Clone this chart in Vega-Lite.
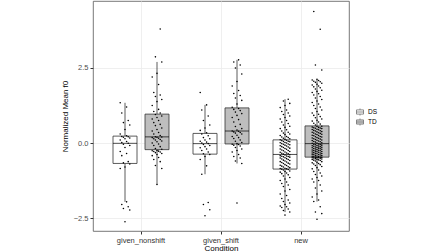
{
"$schema":"https://vega.github.io/schema/vega-lite/v6.json",
"width":256,"height":230,
"autosize":{"type":"none"},
"padding":{"left":93,"top":1,"right":99,"bottom":21},
"config":{
 "font":"Liberation Sans",
 "view":{"stroke":"#555555","strokeWidth":0.8},
 "axis":{"gridColor":"#EBEBEB","gridWidth":0.8,"domain":false,"tickColor":"#333333","tickSize":3,"labelColor":"#4d4d4d","labelFontSize":7.5,"labelPadding":2,"titleFontSize":8,"titleFontWeight":"normal","titleColor":"#000000"},
 "legend":{"orient":"none","legendX":263,"legendY":107,"padding":0,"labelFontSize":6.5,"labelColor":"#000000","symbolType":"M-1,-0.6H1V0.6H-1Z M-1,0H1 M0,-0.6V-1 M0,0.6V1","symbolSize":49,"symbolStrokeColor":"#333333","symbolStrokeWidth":0.8,"rowPadding":-2,"labelOffset":4}
},
"data":{"values":[
{"c":"given_nonshift","g":"DS","v":-2.62},{"c":"given_nonshift","g":"DS","v":-2.23},{"c":"given_nonshift","g":"DS","v":-2.18},{"c":"given_nonshift","g":"DS","v":-2.12},{"c":"given_nonshift","g":"DS","v":-2.05},{"c":"given_nonshift","g":"DS","v":-1.96},{"c":"given_nonshift","g":"DS","v":-0.85},{"c":"given_nonshift","g":"DS","v":-0.8},{"c":"given_nonshift","g":"DS","v":-0.7},{"c":"given_nonshift","g":"DS","v":-0.66},{"c":"given_nonshift","g":"DS","v":-0.62},{"c":"given_nonshift","g":"DS","v":-0.42},{"c":"given_nonshift","g":"DS","v":-0.35},{"c":"given_nonshift","g":"DS","v":-0.28},{"c":"given_nonshift","g":"DS","v":-0.15},{"c":"given_nonshift","g":"DS","v":-0.08},{"c":"given_nonshift","g":"DS","v":-0.04},{"c":"given_nonshift","g":"DS","v":-0.01},{"c":"given_nonshift","g":"DS","v":0.02},{"c":"given_nonshift","g":"DS","v":0.05},{"c":"given_nonshift","g":"DS","v":0.1},{"c":"given_nonshift","g":"DS","v":0.14},{"c":"given_nonshift","g":"DS","v":0.17},{"c":"given_nonshift","g":"DS","v":0.19},{"c":"given_nonshift","g":"DS","v":0.21},{"c":"given_nonshift","g":"DS","v":0.22},{"c":"given_nonshift","g":"DS","v":0.24},{"c":"given_nonshift","g":"DS","v":0.3},{"c":"given_nonshift","g":"DS","v":0.45},{"c":"given_nonshift","g":"DS","v":0.6},{"c":"given_nonshift","g":"DS","v":0.68},{"c":"given_nonshift","g":"DS","v":0.75},{"c":"given_nonshift","g":"DS","v":1.0},{"c":"given_nonshift","g":"DS","v":1.2},{"c":"given_nonshift","g":"DS","v":1.34},
{"c":"given_nonshift","g":"TD","v":-1.38},{"c":"given_nonshift","g":"TD","v":-0.85},{"c":"given_nonshift","g":"TD","v":-0.75},{"c":"given_nonshift","g":"TD","v":-0.62},{"c":"given_nonshift","g":"TD","v":-0.55},{"c":"given_nonshift","g":"TD","v":-0.48},{"c":"given_nonshift","g":"TD","v":-0.42},{"c":"given_nonshift","g":"TD","v":-0.38},{"c":"given_nonshift","g":"TD","v":-0.35},{"c":"given_nonshift","g":"TD","v":-0.32},{"c":"given_nonshift","g":"TD","v":-0.3},{"c":"given_nonshift","g":"TD","v":-0.28},{"c":"given_nonshift","g":"TD","v":-0.27},{"c":"given_nonshift","g":"TD","v":-0.26},{"c":"given_nonshift","g":"TD","v":-0.25},{"c":"given_nonshift","g":"TD","v":-0.21},{"c":"given_nonshift","g":"TD","v":-0.18},{"c":"given_nonshift","g":"TD","v":-0.12},{"c":"given_nonshift","g":"TD","v":-0.08},{"c":"given_nonshift","g":"TD","v":-0.03},{"c":"given_nonshift","g":"TD","v":0.0},{"c":"given_nonshift","g":"TD","v":0.04},{"c":"given_nonshift","g":"TD","v":0.07},{"c":"given_nonshift","g":"TD","v":0.1},{"c":"given_nonshift","g":"TD","v":0.12},{"c":"given_nonshift","g":"TD","v":0.14},{"c":"given_nonshift","g":"TD","v":0.16},{"c":"given_nonshift","g":"TD","v":0.18},{"c":"given_nonshift","g":"TD","v":0.19},{"c":"given_nonshift","g":"TD","v":0.2},{"c":"given_nonshift","g":"TD","v":0.21},{"c":"given_nonshift","g":"TD","v":0.25},{"c":"given_nonshift","g":"TD","v":0.3},{"c":"given_nonshift","g":"TD","v":0.35},{"c":"given_nonshift","g":"TD","v":0.4},{"c":"given_nonshift","g":"TD","v":0.45},{"c":"given_nonshift","g":"TD","v":0.5},{"c":"given_nonshift","g":"TD","v":0.58},{"c":"given_nonshift","g":"TD","v":0.62},{"c":"given_nonshift","g":"TD","v":0.68},{"c":"given_nonshift","g":"TD","v":0.75},{"c":"given_nonshift","g":"TD","v":0.8},{"c":"given_nonshift","g":"TD","v":0.85},{"c":"given_nonshift","g":"TD","v":0.9},{"c":"given_nonshift","g":"TD","v":0.95},{"c":"given_nonshift","g":"TD","v":1.0},{"c":"given_nonshift","g":"TD","v":1.05},{"c":"given_nonshift","g":"TD","v":1.12},{"c":"given_nonshift","g":"TD","v":1.25},{"c":"given_nonshift","g":"TD","v":1.38},{"c":"given_nonshift","g":"TD","v":1.45},{"c":"given_nonshift","g":"TD","v":1.55},{"c":"given_nonshift","g":"TD","v":1.6},{"c":"given_nonshift","g":"TD","v":1.68},{"c":"given_nonshift","g":"TD","v":1.95},{"c":"given_nonshift","g":"TD","v":2.2},{"c":"given_nonshift","g":"TD","v":2.32},{"c":"given_nonshift","g":"TD","v":2.7},{"c":"given_nonshift","g":"TD","v":2.87},{"c":"given_nonshift","g":"TD","v":3.8},
{"c":"given_shift","g":"DS","v":-2.42},{"c":"given_shift","g":"DS","v":-2.22},{"c":"given_shift","g":"DS","v":-2.05},{"c":"given_shift","g":"DS","v":-1.98},{"c":"given_shift","g":"DS","v":-1.04},{"c":"given_shift","g":"DS","v":-0.76},{"c":"given_shift","g":"DS","v":-0.55},{"c":"given_shift","g":"DS","v":-0.45},{"c":"given_shift","g":"DS","v":-0.38},{"c":"given_shift","g":"DS","v":-0.36},{"c":"given_shift","g":"DS","v":-0.3},{"c":"given_shift","g":"DS","v":-0.25},{"c":"given_shift","g":"DS","v":-0.2},{"c":"given_shift","g":"DS","v":-0.16},{"c":"given_shift","g":"DS","v":-0.12},{"c":"given_shift","g":"DS","v":-0.08},{"c":"given_shift","g":"DS","v":-0.05},{"c":"given_shift","g":"DS","v":-0.02},{"c":"given_shift","g":"DS","v":0.0},{"c":"given_shift","g":"DS","v":0.03},{"c":"given_shift","g":"DS","v":0.06},{"c":"given_shift","g":"DS","v":0.1},{"c":"given_shift","g":"DS","v":0.14},{"c":"given_shift","g":"DS","v":0.18},{"c":"given_shift","g":"DS","v":0.24},{"c":"given_shift","g":"DS","v":0.3},{"c":"given_shift","g":"DS","v":0.34},{"c":"given_shift","g":"DS","v":0.42},{"c":"given_shift","g":"DS","v":0.5},{"c":"given_shift","g":"DS","v":0.6},{"c":"given_shift","g":"DS","v":0.75},{"c":"given_shift","g":"DS","v":0.9},{"c":"given_shift","g":"DS","v":1.1},{"c":"given_shift","g":"DS","v":1.27},{"c":"given_shift","g":"DS","v":1.68},
{"c":"given_shift","g":"TD","v":-2.0},{"c":"given_shift","g":"TD","v":-0.68},{"c":"given_shift","g":"TD","v":-0.6},{"c":"given_shift","g":"TD","v":-0.5},{"c":"given_shift","g":"TD","v":-0.45},{"c":"given_shift","g":"TD","v":-0.38},{"c":"given_shift","g":"TD","v":-0.3},{"c":"given_shift","g":"TD","v":-0.25},{"c":"given_shift","g":"TD","v":-0.2},{"c":"given_shift","g":"TD","v":-0.15},{"c":"given_shift","g":"TD","v":-0.1},{"c":"given_shift","g":"TD","v":-0.07},{"c":"given_shift","g":"TD","v":-0.05},{"c":"given_shift","g":"TD","v":-0.04},{"c":"given_shift","g":"TD","v":-0.02},{"c":"given_shift","g":"TD","v":0.02},{"c":"given_shift","g":"TD","v":0.06},{"c":"given_shift","g":"TD","v":0.1},{"c":"given_shift","g":"TD","v":0.15},{"c":"given_shift","g":"TD","v":0.18},{"c":"given_shift","g":"TD","v":0.22},{"c":"given_shift","g":"TD","v":0.26},{"c":"given_shift","g":"TD","v":0.3},{"c":"given_shift","g":"TD","v":0.33},{"c":"given_shift","g":"TD","v":0.35},{"c":"given_shift","g":"TD","v":0.37},{"c":"given_shift","g":"TD","v":0.39},{"c":"given_shift","g":"TD","v":0.4},{"c":"given_shift","g":"TD","v":0.43},{"c":"given_shift","g":"TD","v":0.48},{"c":"given_shift","g":"TD","v":0.55},{"c":"given_shift","g":"TD","v":0.62},{"c":"given_shift","g":"TD","v":0.7},{"c":"given_shift","g":"TD","v":0.78},{"c":"given_shift","g":"TD","v":0.85},{"c":"given_shift","g":"TD","v":0.92},{"c":"given_shift","g":"TD","v":0.98},{"c":"given_shift","g":"TD","v":1.03},{"c":"given_shift","g":"TD","v":1.08},{"c":"given_shift","g":"TD","v":1.12},{"c":"given_shift","g":"TD","v":1.15},{"c":"given_shift","g":"TD","v":1.19},{"c":"given_shift","g":"TD","v":1.3},{"c":"given_shift","g":"TD","v":1.42},{"c":"given_shift","g":"TD","v":1.5},{"c":"given_shift","g":"TD","v":1.58},{"c":"given_shift","g":"TD","v":1.65},{"c":"given_shift","g":"TD","v":1.75},{"c":"given_shift","g":"TD","v":1.9},{"c":"given_shift","g":"TD","v":2.05},{"c":"given_shift","g":"TD","v":2.3},{"c":"given_shift","g":"TD","v":2.5},{"c":"given_shift","g":"TD","v":2.6},{"c":"given_shift","g":"TD","v":2.7},{"c":"given_shift","g":"TD","v":2.77},
{"c":"new","g":"DS","v":-2.4},{"c":"new","g":"DS","v":-2.3},{"c":"new","g":"DS","v":-2.25},{"c":"new","g":"DS","v":-2.2},{"c":"new","g":"DS","v":-2.15},{"c":"new","g":"DS","v":-2.12},{"c":"new","g":"DS","v":-2.1},{"c":"new","g":"DS","v":-2.05},{"c":"new","g":"DS","v":-2.0},{"c":"new","g":"DS","v":-1.95},{"c":"new","g":"DS","v":-1.9},{"c":"new","g":"DS","v":-1.85},{"c":"new","g":"DS","v":-1.75},{"c":"new","g":"DS","v":-1.7},{"c":"new","g":"DS","v":-1.6},{"c":"new","g":"DS","v":-1.55},{"c":"new","g":"DS","v":-1.45},{"c":"new","g":"DS","v":-1.4},{"c":"new","g":"DS","v":-1.35},{"c":"new","g":"DS","v":-1.3},{"c":"new","g":"DS","v":-1.25},{"c":"new","g":"DS","v":-1.2},{"c":"new","g":"DS","v":-1.15},{"c":"new","g":"DS","v":-1.1},{"c":"new","g":"DS","v":-1.06},{"c":"new","g":"DS","v":-1.02},{"c":"new","g":"DS","v":-1.0},{"c":"new","g":"DS","v":-0.97},{"c":"new","g":"DS","v":-0.95},{"c":"new","g":"DS","v":-0.93},{"c":"new","g":"DS","v":-0.9},{"c":"new","g":"DS","v":-0.88},{"c":"new","g":"DS","v":-0.87},{"c":"new","g":"DS","v":-0.86},
{"c":"new","g":"DS","v":-0.85},{"c":"new","g":"DS","v":-0.84},{"c":"new","g":"DS","v":-0.82},{"c":"new","g":"DS","v":-0.8},{"c":"new","g":"DS","v":-0.79},{"c":"new","g":"DS","v":-0.77},{"c":"new","g":"DS","v":-0.75},{"c":"new","g":"DS","v":-0.74},{"c":"new","g":"DS","v":-0.72},{"c":"new","g":"DS","v":-0.7},{"c":"new","g":"DS","v":-0.68},{"c":"new","g":"DS","v":-0.67},{"c":"new","g":"DS","v":-0.65},{"c":"new","g":"DS","v":-0.63},{"c":"new","g":"DS","v":-0.62},{"c":"new","g":"DS","v":-0.6},{"c":"new","g":"DS","v":-0.58},{"c":"new","g":"DS","v":-0.57},{"c":"new","g":"DS","v":-0.55},{"c":"new","g":"DS","v":-0.53},{"c":"new","g":"DS","v":-0.52},{"c":"new","g":"DS","v":-0.5},{"c":"new","g":"DS","v":-0.49},{"c":"new","g":"DS","v":-0.47},{"c":"new","g":"DS","v":-0.46},{"c":"new","g":"DS","v":-0.45},{"c":"new","g":"DS","v":-0.44},{"c":"new","g":"DS","v":-0.43},{"c":"new","g":"DS","v":-0.42},{"c":"new","g":"DS","v":-0.4},{"c":"new","g":"DS","v":-0.39},{"c":"new","g":"DS","v":-0.37},
{"c":"new","g":"DS","v":-0.36},{"c":"new","g":"DS","v":-0.34},{"c":"new","g":"DS","v":-0.33},{"c":"new","g":"DS","v":-0.31},{"c":"new","g":"DS","v":-0.3},{"c":"new","g":"DS","v":-0.28},{"c":"new","g":"DS","v":-0.26},{"c":"new","g":"DS","v":-0.25},{"c":"new","g":"DS","v":-0.23},{"c":"new","g":"DS","v":-0.21},{"c":"new","g":"DS","v":-0.2},{"c":"new","g":"DS","v":-0.18},{"c":"new","g":"DS","v":-0.17},{"c":"new","g":"DS","v":-0.15},{"c":"new","g":"DS","v":-0.13},{"c":"new","g":"DS","v":-0.12},{"c":"new","g":"DS","v":-0.1},{"c":"new","g":"DS","v":-0.09},{"c":"new","g":"DS","v":-0.07},{"c":"new","g":"DS","v":-0.06},{"c":"new","g":"DS","v":-0.04},{"c":"new","g":"DS","v":-0.03},{"c":"new","g":"DS","v":-0.02},{"c":"new","g":"DS","v":0.0},{"c":"new","g":"DS","v":0.01},{"c":"new","g":"DS","v":0.02},{"c":"new","g":"DS","v":0.04},{"c":"new","g":"DS","v":0.05},{"c":"new","g":"DS","v":0.06},{"c":"new","g":"DS","v":0.08},{"c":"new","g":"DS","v":0.09},{"c":"new","g":"DS","v":0.11},
{"c":"new","g":"DS","v":0.12},{"c":"new","g":"DS","v":0.14},{"c":"new","g":"DS","v":0.16},{"c":"new","g":"DS","v":0.18},{"c":"new","g":"DS","v":0.2},{"c":"new","g":"DS","v":0.22},{"c":"new","g":"DS","v":0.25},{"c":"new","g":"DS","v":0.28},{"c":"new","g":"DS","v":0.3},{"c":"new","g":"DS","v":0.33},{"c":"new","g":"DS","v":0.36},{"c":"new","g":"DS","v":0.4},{"c":"new","g":"DS","v":0.44},{"c":"new","g":"DS","v":0.48},{"c":"new","g":"DS","v":0.52},{"c":"new","g":"DS","v":0.56},{"c":"new","g":"DS","v":0.6},{"c":"new","g":"DS","v":0.65},{"c":"new","g":"DS","v":0.7},{"c":"new","g":"DS","v":0.75},{"c":"new","g":"DS","v":0.8},{"c":"new","g":"DS","v":0.85},{"c":"new","g":"DS","v":0.9},{"c":"new","g":"DS","v":0.95},{"c":"new","g":"DS","v":1.0},{"c":"new","g":"DS","v":1.05},{"c":"new","g":"DS","v":1.1},{"c":"new","g":"DS","v":1.18},{"c":"new","g":"DS","v":1.25},{"c":"new","g":"DS","v":1.32},{"c":"new","g":"DS","v":1.4},{"c":"new","g":"DS","v":1.46},
{"c":"new","g":"TD","v":-2.54},{"c":"new","g":"TD","v":-2.35},{"c":"new","g":"TD","v":-2.3},{"c":"new","g":"TD","v":-2.12},{"c":"new","g":"TD","v":-1.95},{"c":"new","g":"TD","v":-1.9},{"c":"new","g":"TD","v":-1.8},{"c":"new","g":"TD","v":-1.7},{"c":"new","g":"TD","v":-1.6},{"c":"new","g":"TD","v":-1.5},{"c":"new","g":"TD","v":-1.4},{"c":"new","g":"TD","v":-1.3},{"c":"new","g":"TD","v":-1.25},{"c":"new","g":"TD","v":-1.2},{"c":"new","g":"TD","v":-1.15},{"c":"new","g":"TD","v":-1.1},{"c":"new","g":"TD","v":-1.05},{"c":"new","g":"TD","v":-1.0},{"c":"new","g":"TD","v":-0.95},{"c":"new","g":"TD","v":-0.9},{"c":"new","g":"TD","v":-0.86},{"c":"new","g":"TD","v":-0.82},{"c":"new","g":"TD","v":-0.78},{"c":"new","g":"TD","v":-0.75},{"c":"new","g":"TD","v":-0.72},{"c":"new","g":"TD","v":-0.7},{"c":"new","g":"TD","v":-0.68},{"c":"new","g":"TD","v":-0.66},{"c":"new","g":"TD","v":-0.64},{"c":"new","g":"TD","v":-0.62},{"c":"new","g":"TD","v":-0.6},{"c":"new","g":"TD","v":-0.58},{"c":"new","g":"TD","v":-0.57},{"c":"new","g":"TD","v":-0.56},{"c":"new","g":"TD","v":-0.55},{"c":"new","g":"TD","v":-0.54},{"c":"new","g":"TD","v":-0.53},{"c":"new","g":"TD","v":-0.52},{"c":"new","g":"TD","v":-0.51},{"c":"new","g":"TD","v":-0.5},{"c":"new","g":"TD","v":-0.49},{"c":"new","g":"TD","v":-0.49},{"c":"new","g":"TD","v":-0.48},{"c":"new","g":"TD","v":-0.48},{"c":"new","g":"TD","v":-0.47},{"c":"new","g":"TD","v":-0.47},
{"c":"new","g":"TD","v":-0.46},{"c":"new","g":"TD","v":-0.45},{"c":"new","g":"TD","v":-0.44},{"c":"new","g":"TD","v":-0.43},{"c":"new","g":"TD","v":-0.42},{"c":"new","g":"TD","v":-0.41},{"c":"new","g":"TD","v":-0.4},{"c":"new","g":"TD","v":-0.39},{"c":"new","g":"TD","v":-0.38},{"c":"new","g":"TD","v":-0.37},{"c":"new","g":"TD","v":-0.36},{"c":"new","g":"TD","v":-0.35},{"c":"new","g":"TD","v":-0.34},{"c":"new","g":"TD","v":-0.33},{"c":"new","g":"TD","v":-0.32},{"c":"new","g":"TD","v":-0.31},{"c":"new","g":"TD","v":-0.3},{"c":"new","g":"TD","v":-0.29},{"c":"new","g":"TD","v":-0.28},{"c":"new","g":"TD","v":-0.27},{"c":"new","g":"TD","v":-0.26},{"c":"new","g":"TD","v":-0.25},{"c":"new","g":"TD","v":-0.24},{"c":"new","g":"TD","v":-0.23},{"c":"new","g":"TD","v":-0.22},{"c":"new","g":"TD","v":-0.21},{"c":"new","g":"TD","v":-0.2},{"c":"new","g":"TD","v":-0.19},{"c":"new","g":"TD","v":-0.18},{"c":"new","g":"TD","v":-0.17},{"c":"new","g":"TD","v":-0.16},{"c":"new","g":"TD","v":-0.15},{"c":"new","g":"TD","v":-0.14},{"c":"new","g":"TD","v":-0.13},{"c":"new","g":"TD","v":-0.12},{"c":"new","g":"TD","v":-0.11},{"c":"new","g":"TD","v":-0.1},{"c":"new","g":"TD","v":-0.09},{"c":"new","g":"TD","v":-0.08},{"c":"new","g":"TD","v":-0.07},{"c":"new","g":"TD","v":-0.06},{"c":"new","g":"TD","v":-0.05},{"c":"new","g":"TD","v":-0.04},{"c":"new","g":"TD","v":-0.03},{"c":"new","g":"TD","v":-0.01},
{"c":"new","g":"TD","v":0.0},{"c":"new","g":"TD","v":0.01},{"c":"new","g":"TD","v":0.03},{"c":"new","g":"TD","v":0.04},{"c":"new","g":"TD","v":0.05},{"c":"new","g":"TD","v":0.07},{"c":"new","g":"TD","v":0.08},{"c":"new","g":"TD","v":0.09},{"c":"new","g":"TD","v":0.1},{"c":"new","g":"TD","v":0.12},{"c":"new","g":"TD","v":0.13},{"c":"new","g":"TD","v":0.14},{"c":"new","g":"TD","v":0.16},{"c":"new","g":"TD","v":0.17},{"c":"new","g":"TD","v":0.18},{"c":"new","g":"TD","v":0.2},{"c":"new","g":"TD","v":0.21},{"c":"new","g":"TD","v":0.22},{"c":"new","g":"TD","v":0.24},{"c":"new","g":"TD","v":0.25},{"c":"new","g":"TD","v":0.26},{"c":"new","g":"TD","v":0.28},{"c":"new","g":"TD","v":0.29},{"c":"new","g":"TD","v":0.3},{"c":"new","g":"TD","v":0.32},{"c":"new","g":"TD","v":0.33},{"c":"new","g":"TD","v":0.34},{"c":"new","g":"TD","v":0.36},{"c":"new","g":"TD","v":0.37},{"c":"new","g":"TD","v":0.38},{"c":"new","g":"TD","v":0.4},{"c":"new","g":"TD","v":0.41},{"c":"new","g":"TD","v":0.42},{"c":"new","g":"TD","v":0.44},{"c":"new","g":"TD","v":0.45},{"c":"new","g":"TD","v":0.46},{"c":"new","g":"TD","v":0.48},{"c":"new","g":"TD","v":0.49},{"c":"new","g":"TD","v":0.5},{"c":"new","g":"TD","v":0.51},{"c":"new","g":"TD","v":0.52},{"c":"new","g":"TD","v":0.53},{"c":"new","g":"TD","v":0.55},{"c":"new","g":"TD","v":0.56},
{"c":"new","g":"TD","v":0.6},{"c":"new","g":"TD","v":0.63},{"c":"new","g":"TD","v":0.66},{"c":"new","g":"TD","v":0.7},{"c":"new","g":"TD","v":0.73},{"c":"new","g":"TD","v":0.76},{"c":"new","g":"TD","v":0.8},{"c":"new","g":"TD","v":0.84},{"c":"new","g":"TD","v":0.88},{"c":"new","g":"TD","v":0.92},{"c":"new","g":"TD","v":0.96},{"c":"new","g":"TD","v":1.0},{"c":"new","g":"TD","v":1.05},{"c":"new","g":"TD","v":1.1},{"c":"new","g":"TD","v":1.15},{"c":"new","g":"TD","v":1.2},{"c":"new","g":"TD","v":1.25},{"c":"new","g":"TD","v":1.3},{"c":"new","g":"TD","v":1.35},{"c":"new","g":"TD","v":1.4},{"c":"new","g":"TD","v":1.45},{"c":"new","g":"TD","v":1.5},{"c":"new","g":"TD","v":1.55},{"c":"new","g":"TD","v":1.6},{"c":"new","g":"TD","v":1.64},{"c":"new","g":"TD","v":1.68},{"c":"new","g":"TD","v":1.72},{"c":"new","g":"TD","v":1.76},{"c":"new","g":"TD","v":1.8},{"c":"new","g":"TD","v":1.84},{"c":"new","g":"TD","v":1.87},{"c":"new","g":"TD","v":1.9},{"c":"new","g":"TD","v":1.93},{"c":"new","g":"TD","v":1.96},{"c":"new","g":"TD","v":1.99},{"c":"new","g":"TD","v":2.02},{"c":"new","g":"TD","v":2.04},{"c":"new","g":"TD","v":2.06},{"c":"new","g":"TD","v":2.08},{"c":"new","g":"TD","v":2.1},{"c":"new","g":"TD","v":2.12},{"c":"new","g":"TD","v":2.43},{"c":"new","g":"TD","v":2.6},{"c":"new","g":"TD","v":3.79},{"c":"new","g":"TD","v":4.38}
]},
"transform":[
 {"window":[{"op":"row_number","as":"rn"}],"groupby":["c","g"]},
 {"calculate":"datum.g + ((datum.rn * 3) % 7)","as":"lane"},
 {"calculate":"datum.g + '3'","as":"mid"}
],
"encoding":{
 "x":{"field":"c","type":"nominal","title":"Condition","sort":["given_nonshift","given_shift","new"],
  "scale":{"paddingInner":0,"paddingOuter":0.1},
  "axis":{"labelAngle":0,"bandPosition":0.5,"grid":true,"titlePadding":1,"labelColor":"#333333"}}
},
"layer":[
 {"mark":{"type":"boxplot","extent":1.5,"outliers":false,"size":24,
   "median":{"color":"#000000","strokeWidth":1.6},
   "box":{"stroke":"#333333","strokeWidth":0.8},
   "rule":{"color":"#333333","strokeWidth":0.8}},
  "encoding":{
   "y":{"field":"v","type":"quantitative","title":"Normalized Mean f0","scale":{"domain":[-2.93,4.73],"nice":false,"zero":false},
     "axis":{"values":[-2.5,0,2.5],"format":".1f","titlePadding":4}},
   "xOffset":{"field":"mid","type":"nominal","scale":{"domain":["p0","p1","p2","p3","p4","p5","p6","p7","p8","p9","p10","DS0","DS1","DS2","DS3","DS4","DS5","DS6","x18","x19","x20","x21","x22","x23","x24","x25","x26","x27","x28","x29","x30","TD0","TD1","TD2","TD3","TD4","TD5","TD6","q38","q39","q40","q41","q42","q43","q44","q45","q46","q47","q48"],"paddingInner":0,"paddingOuter":0.5}},
   "color":{"field":"g","type":"nominal","title":null,"scale":{"domain":["DS","TD"],"range":["#ffffff","#bebebe"]}}
  }},
 {"mark":{"type":"circle","size":2.5,"color":"#000000","opacity":1},
  "encoding":{
   "y":{"field":"v","type":"quantitative","scale":{"domain":[-2.93,4.73],"nice":false,"zero":false},
     "axis":{"orient":"left","values":[-1.25,1.25,3.75],"labels":false,"ticks":false,"title":null,"gridWidth":0.4}},
   "xOffset":{"field":"lane","type":"nominal"}
  }}
],
"resolve":{"axis":{"y":"independent"}}
}
